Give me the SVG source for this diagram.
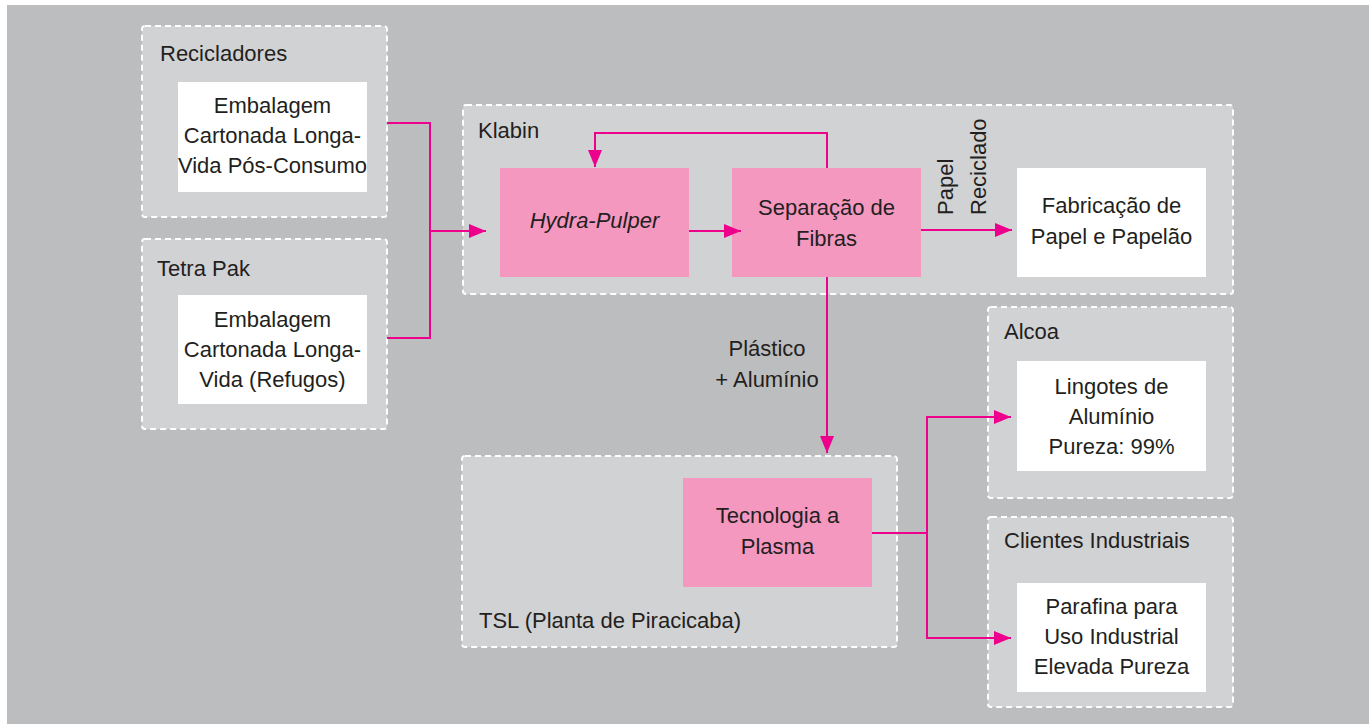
<svg xmlns="http://www.w3.org/2000/svg" width="1372" height="725" viewBox="0 0 1372 725">
<defs>
<style>
.grp{fill:#d1d2d4;stroke:#ffffff;stroke-width:2;stroke-dasharray:6 4}
.wht{fill:#ffffff}
.pnk{fill:#f498c0}
.t{font-family:"Liberation Sans",Arial,sans-serif;font-size:22px;fill:#231f20}
.c{text-anchor:middle}
.ln{fill:none;stroke:#ec008c;stroke-width:2}
</style>
<marker id="ah" markerUnits="userSpaceOnUse" markerWidth="18" markerHeight="14" refX="17" refY="7" orient="auto">
<path d="M0,0 L17,7 L0,14 Z" fill="#ec008c"/>
</marker>
</defs>
<rect x="7" y="5" width="1362" height="719" fill="#bcbdbf"/>

<g id="recicladores">
<rect class="grp" x="142" y="26" width="245" height="191" rx="3"/>
<text class="t" x="160" y="61">Recicladores</text>
<rect class="wht" x="178" y="82" width="189" height="110"/>
<text class="t c" x="272.5" y="113">Embalagem</text>
<text class="t c" x="272.5" y="143">Cartonada Longa-</text>
<text class="t c" x="272.5" y="173">Vida Pós-Consumo</text>
</g>

<g id="tetrapak">
<rect class="grp" x="142" y="239" width="245" height="190" rx="3"/>
<text class="t" x="157" y="276">Tetra Pak</text>
<rect class="wht" x="178" y="295" width="189" height="109"/>
<text class="t c" x="272.5" y="327">Embalagem</text>
<text class="t c" x="272.5" y="357">Cartonada Longa-</text>
<text class="t c" x="272.5" y="387">Vida (Refugos)</text>
</g>

<g id="klabin">
<rect class="grp" x="463" y="105" width="770" height="189" rx="3"/>
<text class="t" x="478" y="138">Klabin</text>
</g>

<g id="hydra">
<rect class="pnk" x="500" y="168" width="189" height="109"/>
<text class="t c" x="594.5" y="228" font-style="italic">Hydra-Pulper</text>
</g>

<g id="separacao">
<rect class="pnk" x="732" y="168" width="189" height="109"/>
<text class="t c" x="826.5" y="215">Separação de</text>
<text class="t c" x="826.5" y="246">Fibras</text>
</g>

<g id="fabricacao">
<rect class="wht" x="1017" y="168" width="189" height="109"/>
<text class="t c" x="1111.5" y="213">Fabricação de</text>
<text class="t c" x="1111.5" y="244">Papel e Papelão</text>
</g>

<g id="tsl">
<rect class="grp" x="462" y="456" width="435" height="191" rx="3"/>
<text class="t" x="479" y="628">TSL (Planta de Piracicaba)</text>
</g>

<g id="plasma">
<rect class="pnk" x="683" y="478" width="189" height="109"/>
<text class="t c" x="777.5" y="523">Tecnologia a</text>
<text class="t c" x="777.5" y="554">Plasma</text>
</g>

<g id="alcoa">
<rect class="grp" x="988" y="307" width="245" height="191" rx="3"/>
<text class="t" x="1004" y="339">Alcoa</text>
<rect class="wht" x="1017" y="361" width="189" height="110"/>
<text class="t c" x="1111.5" y="394">Lingotes de</text>
<text class="t c" x="1111.5" y="424">Alumínio</text>
<text class="t c" x="1111.5" y="454">Pureza: 99%</text>
</g>

<g id="clientes">
<rect class="grp" x="988" y="517" width="245" height="190" rx="3"/>
<text class="t" x="1004" y="548">Clientes Industriais</text>
<rect class="wht" x="1017" y="583" width="189" height="109"/>
<text class="t c" x="1111.5" y="614">Parafina para</text>
<text class="t c" x="1111.5" y="644">Uso Industrial</text>
<text class="t c" x="1111.5" y="674">Elevada Pureza</text>
</g>

<g id="connectors">
<polyline class="ln" points="387,123 430,123 430,338 387,338"/>
<line class="ln" x1="430" y1="231" x2="486" y2="231" marker-end="url(#ah)"/>
<line class="ln" x1="689" y1="231" x2="741" y2="231" marker-end="url(#ah)"/>
<polyline class="ln" points="827,168 827,133 595,133 595,167" marker-end="url(#ah)"/>
<line class="ln" x1="921" y1="230" x2="1012" y2="230" marker-end="url(#ah)"/>
<line class="ln" x1="827" y1="277" x2="827" y2="453" marker-end="url(#ah)"/>
<line class="ln" x1="872" y1="533" x2="927" y2="533"/>
<polyline class="ln" points="927,533 927,417 1011,417" marker-end="url(#ah)"/>
<polyline class="ln" points="927,533 927,638 1011,638" marker-end="url(#ah)"/>
<text class="t" transform="translate(953,215) rotate(-90)">Papel</text>
<text class="t" transform="translate(986,215) rotate(-90)">Reciclado</text>
<text class="t c" x="767" y="356">Plástico</text>
<text class="t c" x="767" y="387">+ Alumínio</text>
</g>
</svg>
